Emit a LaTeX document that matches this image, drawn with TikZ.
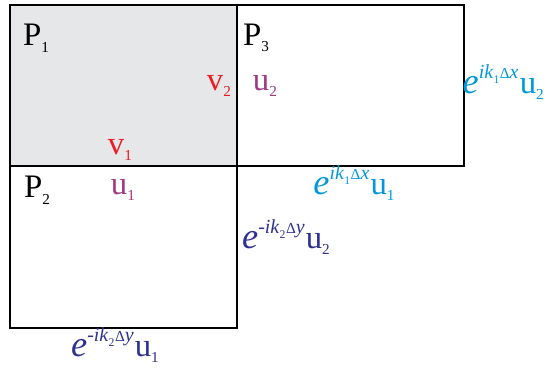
\documentclass[tikz,border=0pt]{standalone}
\usepackage{fontspec}
\setmainfont{Liberation Serif}
\usetikzlibrary{positioning}
\definecolor{cRed}{RGB}{237,28,36}
\definecolor{cPurple}{RGB}{158,58,128}
\definecolor{cCyan}{RGB}{0,152,218}
\definecolor{cNavy}{RGB}{46,49,146}
\definecolor{cGray}{RGB}{230,231,232}
% index set low and small
\newcommand{\idx}[1]{\raisebox{-0.2em}{\fontsize{13}{13}\selectfont #1}}
% phase factor e^{#1 i k_#2 \Delta #3} u_#4
\newcommand{\phasefac}[4]{{\fontsize{31}{31}\selectfont\textit{e}}\raisebox{0.45em}{\fontsize{17}{17}\selectfont #1\textit{ik}\raisebox{-0.25em}{\fontsize{10}{10}\selectfont #2}\kern0.5pt{\fontsize{13}{13}\selectfont Δ}\textit{#3}}\kern1pt u\idx{#4}}
\tikzset{
	cell/.style   ={draw=black, line width=0.9pt},
	cellmain/.style={draw=black, line width=2.2pt, fill=cGray},
	plabel/.style ={font=\fontsize{28}{30}\selectfont, inner sep=0pt},
	vlabel/.style ={plabel, text=cRed},
	ulabel/.style ={plabel, text=cPurple},
	xphase/.style ={plabel, text=cCyan},
	yphase/.style ={plabel, text=cNavy},
}
\begin{document}
\begin{tikzpicture}[x=0.03cm, y=-0.03cm]
	\useasboundingbox (0,0) rectangle (544,367);
	% cells
	\draw[cell] (237,5) rectangle (464,166);
	\draw[cell] (10,166) rectangle (237,328);
	\draw[cellmain] (10,5) rectangle (237,166);
	% cell names
	\node[plabel] (p1) at (36,38) {P\idx{1}};
	\node[plabel] (p3) at (256,38) {P\idx{3}};
	\node[plabel] (p2) at (37,190) {P\idx{2}};
	% fields
	\node[vlabel] (v2) at (219,86) {v\idx{2}};
	\node[vlabel] (v1) at (120,150) {v\idx{1}};
	\node[ulabel] (u2) at (265,86) {u\idx{2}};
	\node[ulabel] (u1) at (123,190) {u\idx{1}};
	% periodic images
	\node[xphase, anchor=east] (ex2) at (544,82) {\phasefac{}{1}{x}{2}};
	\node[xphase] (ex1) at (354,183) {\phasefac{}{1}{x}{1}};
	\node[yphase] (ey2) at (286,237) {\phasefac{-}{2}{y}{2}};
	\node[yphase] (ey1) at (115,345) {\phasefac{-}{2}{y}{1}};
\end{tikzpicture}
\end{document}
